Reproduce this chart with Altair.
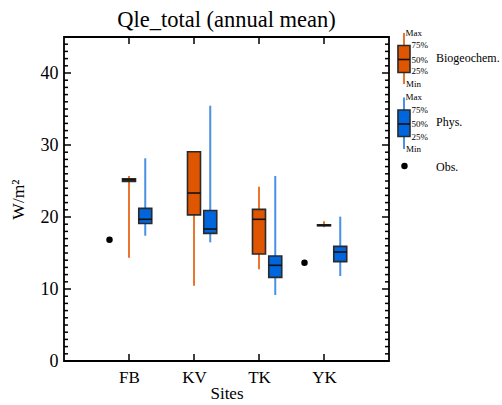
import altair as alt
import pandas as pd

sites = ["FB", "KV", "TK", "YK"]
site_pos = [1, 2, 3, 4]

obs_sites = ["FB", "YK"]
obs_vals = [16.85, 13.66]

bio_min = [14.35, 10.46, 12.73, 18.56]
bio_q1 = [24.95, 20.3, 14.86, 18.78]
bio_med = [25.15, 23.33, 19.68, 18.85]
bio_q3 = [25.3, 29.07, 21.06, 18.92]
bio_max = [25.7, 29.1, 24.21, 19.4]

phys_min = [17.4, 16.48, 9.17, 11.8]
phys_q1 = [19.1, 17.73, 11.62, 13.8]
phys_med = [19.68, 18.33, 13.29, 15.14]
phys_q3 = [21.2, 20.9, 14.58, 15.92]
phys_max = [28.15, 35.46, 25.69, 20.05]

series_names = ["Biogeochem.", "Phys."]
series_offset = [0.0, 0.25]
obs_offset = -0.3
half_box = 0.1

box_fill = ["#E05500", "#0066DD"]
whisk_col = ["#E8762C", "#4A90E4"]

y_major = [0, 10, 20, 30, 40]
y_minor = [v for v in range(0, 46) if v % 10 != 0]

# legend layout, in the chart's own data units (beyond the plotted domain)
leg_x = [5.231, 5.231]
leg_x1 = [5.138, 5.138]
leg_x2 = [5.323, 5.323]
leg_top = [45.56, 36.6]
leg_bot = [38.47, 29.44]
leg_q3 = [43.82, 34.86]
leg_q1 = [40.07, 31.18]
leg_med = [41.875, 32.92]
q_labels = ["Max", "75%", "50%", "25%", "Min"] * 2
q_x = [5.254, 5.346, 5.346, 5.346, 5.262] * 2
q_y = [45.56, 43.82, 41.875, 40.21, 38.54, 36.67, 34.86, 32.92, 31.18, 29.44]
name_labels = ["Biogeochem.", "Phys.", "Obs."]
name_x = [5.723, 5.723, 5.723]
name_y = [42.15, 33.26, 27.01]
leg_obs_x = [5.238]
leg_obs_y = [27.08]

W, H = 325, 324
FONT = "Liberation Serif"

rows = []
for s, off, stats in [
    (series_names[0], series_offset[0], (bio_min, bio_q1, bio_med, bio_q3, bio_max)),
    (series_names[1], series_offset[1], (phys_min, phys_q1, phys_med, phys_q3, phys_max)),
]:
    for i, site in enumerate(sites):
        p = site_pos[i] + off
        rows.append(dict(series=s, site=site, pos=p, x1=p - half_box, x2=p + half_box,
                         mn=stats[0][i], q1=stats[1][i], med=stats[2][i],
                         q3=stats[3][i], mx=stats[4][i]))
box_df = pd.DataFrame(rows)
obs_df = pd.DataFrame({"site": obs_sites,
                       "pos": [site_pos[sites.index(s)] + obs_offset for s in obs_sites],
                       "val": obs_vals})

xs = alt.Scale(domain=[0, 5], nice=False, zero=False)
ys = alt.Scale(domain=[0, 45], nice=False, zero=False)
col_scale = alt.Scale(domain=series_names, range=whisk_col)
fill_scale = alt.Scale(domain=series_names, range=box_fill)

label_expr = "['','FB','KV','TK','YK'][datum.value]"
AX = alt.Axis(
    values=site_pos, labelExpr=label_expr, ticks=False, domain=False, grid=False,
    labelFont=FONT, labelFontSize=17, labelColor="black", labelPadding=8,
    title="Sites", titleFont=FONT, titleFontSize=17, titleFontWeight="normal",
    titleColor="black", titlePadding=0)
AY = alt.Axis(
    values=y_major, ticks=False, domain=False, grid=False,
    labelFont=FONT, labelFontSize=18, labelColor="black", labelPadding=6,
    title="W/m²", titleFont=FONT, titleFontSize=17.5, titleFontWeight="normal",
    titleColor="black", titleX=-37, titleY=162)


def X(f):
    return alt.X(f, scale=xs, axis=AX)


def Y(f):
    return alt.Y(f, scale=ys, axis=AY)


base = alt.Chart(box_df)
whiskers = base.mark_rule(strokeWidth=2).encode(
    x=X("pos:Q"), y=Y("mn:Q"), y2="mx:Q",
    color=alt.Color("series:N", scale=col_scale, legend=None))
boxes = base.mark_rect(stroke="#2a2a2a", strokeWidth=1.6).encode(
    x=X("x1:Q"), x2="x2:Q", y=Y("q1:Q"), y2="q3:Q",
    fill=alt.Fill("series:N", scale=fill_scale, legend=None))
medians = base.mark_rule(color="#111", strokeWidth=1.6).encode(
    x=X("x1:Q"), x2="x2:Q", y=Y("med:Q"))
obs = alt.Chart(obs_df).mark_circle(size=42, color="black", opacity=1).encode(
    x=X("pos:Q"), y=Y("val:Q"))

# inward tick marks
ymaj_df = pd.DataFrame({"v": y_major})
ymin_df = pd.DataFrame({"v": y_minor})
xt_df = pd.DataFrame({"pos": site_pos})
tk = dict(color="black", strokeWidth=1.5)
left_major = alt.Chart(ymaj_df).mark_rule(**tk).encode(
    y=Y("v:Q"), x=alt.value(0), x2=alt.value(7))
left_minor = alt.Chart(ymin_df).mark_rule(**tk).encode(
    y=Y("v:Q"), x=alt.value(0), x2=alt.value(4))
right_major = alt.Chart(ymaj_df).mark_rule(**tk).encode(
    y=Y("v:Q"), x=alt.value(W), x2=alt.value(W - 7))
right_minor = alt.Chart(ymin_df).mark_rule(**tk).encode(
    y=Y("v:Q"), x=alt.value(W), x2=alt.value(W - 4))
top_ticks = alt.Chart(xt_df).mark_rule(**tk).encode(
    x=X("pos:Q"), y=alt.value(0), y2=alt.value(7))
bot_ticks = alt.Chart(xt_df).mark_rule(**tk).encode(
    x=X("pos:Q"), y=alt.value(H), y2=alt.value(H - 7))

# legend
leg_df = pd.DataFrame({"series": series_names, "x": leg_x, "x1": leg_x1, "x2": leg_x2,
                       "top": leg_top, "bot": leg_bot, "q3": leg_q3, "q1": leg_q1,
                       "med": leg_med})
lb = alt.Chart(leg_df)
leg_wh = lb.mark_rule(strokeWidth=2).encode(
    x=X("x:Q"), y=Y("top:Q"), y2="bot:Q",
    color=alt.Color("series:N", scale=col_scale, legend=None))
leg_box = lb.mark_rect(stroke="#2a2a2a", strokeWidth=1.6).encode(
    x=X("x1:Q"), x2="x2:Q", y=Y("q3:Q"), y2="q1:Q",
    fill=alt.Fill("series:N", scale=fill_scale, legend=None))
leg_md = lb.mark_rule(color="#111", strokeWidth=1.6).encode(
    x=X("x1:Q"), x2="x2:Q", y=Y("med:Q"))
q_df = pd.DataFrame({"t": q_labels, "x": q_x, "y": q_y})
leg_q = alt.Chart(q_df).mark_text(align="left", baseline="middle", font=FONT,
                                  fontSize=9, color="black").encode(
    x=X("x:Q"), y=Y("y:Q"), text="t:N")
n_df = pd.DataFrame({"t": name_labels, "x": name_x, "y": name_y})
leg_n = alt.Chart(n_df).mark_text(align="left", baseline="middle", font=FONT,
                                  fontSize=12, color="black").encode(
    x=X("x:Q"), y=Y("y:Q"), text="t:N")
leg_obs_df = pd.DataFrame({"x": leg_obs_x, "y": leg_obs_y})
leg_o = alt.Chart(leg_obs_df).mark_circle(size=42, color="black", opacity=1).encode(
    x=X("x:Q"), y=Y("y:Q"))

chart = alt.layer(
    left_major, left_minor, right_major, right_minor, top_ticks, bot_ticks,
    whiskers, boxes, medians, obs,
    leg_wh, leg_box, leg_md, leg_q, leg_n, leg_o,
).properties(
    width=W, height=H,
    title=alt.TitleParams("Qle_total (annual mean)", font=FONT, fontSize=22.5,
                          fontWeight="normal", color="black", offset=3, dy=6,
                          anchor="middle"),
    autosize=alt.AutoSizeParams(type="none"),
    padding={"left": 64, "top": 37, "right": 113, "bottom": 44},
).configure(background="white").configure_view(stroke="black", strokeWidth=1.8)

chart.save("out.html", embed_options={"renderer": "svg", "actions": False})
